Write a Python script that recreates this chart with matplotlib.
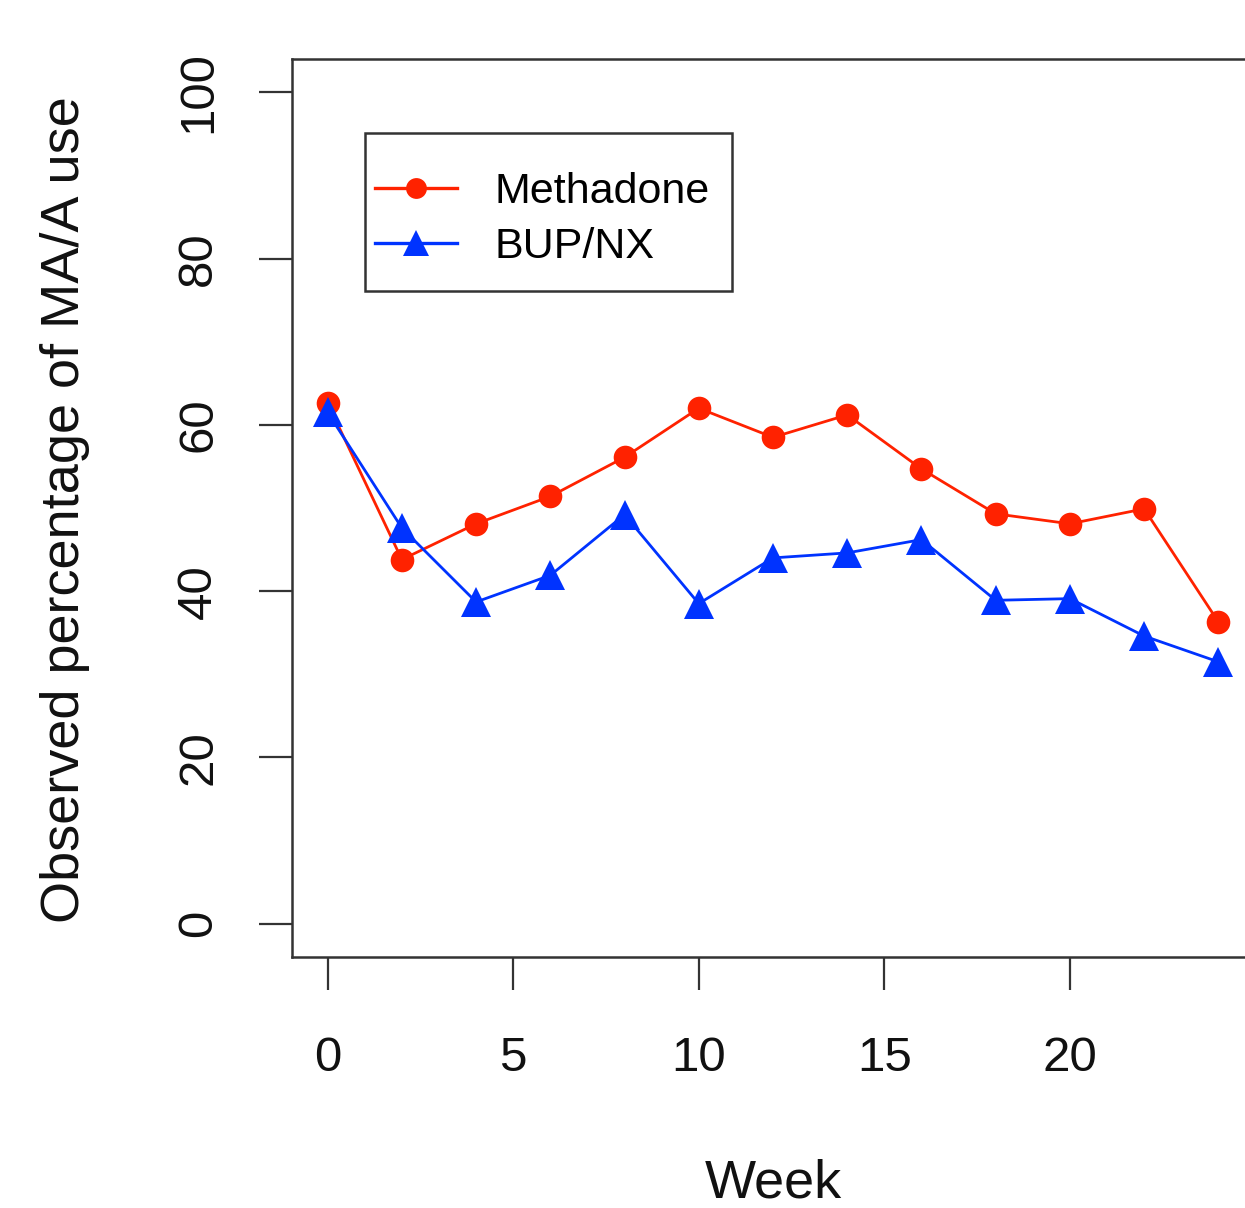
import matplotlib.pyplot as plt
from matplotlib.patches import Rectangle

plt.rcParams['font.family'] = ['Liberation Sans', 'DejaVu Sans']

# Observed percentage of MA/A use by week
weeks = [0, 2, 4, 6, 8, 10, 12, 14, 16, 18, 20, 22, 24]
methadone = [62.6, 43.8, 48.1, 51.4, 56.1, 62.0, 58.5, 61.2, 54.7, 49.3, 48.1, 49.9, 36.3]
bup_nx = [61.5, 47.6, 38.7, 41.9, 49.2, 38.5, 44.0, 44.6, 46.2, 38.9, 39.1, 34.6, 31.5]

x_ticks = [0, 5, 10, 15, 20]
y_ticks = [0, 20, 40, 60, 80, 100]

RED = '#ff2200'
BLUE = '#0033ff'

W, H = 1245, 1208
fig = plt.figure(figsize=(W / 100, H / 100), dpi=100)
# plot box runs past the right edge, as in the cropped original
ax = fig.add_axes([292 / W, 1 - 957 / H, 962 / W, 898 / H])

ax.plot(weeks, methadone, color=RED, lw=2.0, marker='o', markersize=17,
        markeredgewidth=0, label='Methadone')
ax.plot(weeks, bup_nx, color=BLUE, lw=2.0, marker='^', markersize=21,
        markeredgewidth=0, label='BUP/NX')

ax.set_xlim(-0.96, 24.96)
ax.set_ylim(-4, 104)
ax.set_xticks(x_ticks)
ax.set_yticks(y_ticks)

for sp in ax.spines.values():
    sp.set_color('#333333')
    sp.set_linewidth(1.8)

ax.tick_params(axis='both', length=24, width=1.6, color='#333333',
               labelsize=35.5, labelcolor='#111111')
ax.tick_params(axis='x', pad=33)
ax.tick_params(axis='y', pad=27, labelrotation=90)
for lab in ax.get_yticklabels():
    lab.set_va('center')

fig.text(65 / W, 1 - 510 / H, 'Observed percentage of MA/A use', rotation=90,
         ha='center', va='center', fontsize=39, color='#111111')
fig.text(773 / W, 1 - 1183 / H, 'Week', ha='center', va='center',
         fontsize=39, color='#111111')

# R-style legend: box drawn separately, entries placed inside it
fig.patches.append(Rectangle((365 / W, 1 - 291 / H), 367 / W, 158 / H,
                             transform=fig.transFigure, fill=False,
                             edgecolor='#333333', linewidth=1.8))
leg = ax.legend(loc='upper left', bbox_to_anchor=(375 / W, 1 - 172 / H),
                bbox_transform=fig.transFigure, fontsize=31, frameon=False,
                handlelength=1.9, handletextpad=0.88,
                labelspacing=0.34, borderpad=0, borderaxespad=0)
for h in leg.legend_handles:
    h.set_linewidth(2.4)
    h.set_markersize(15 if h.get_marker() == 'o' else 19)

fig.savefig('out.png', dpi=100)
